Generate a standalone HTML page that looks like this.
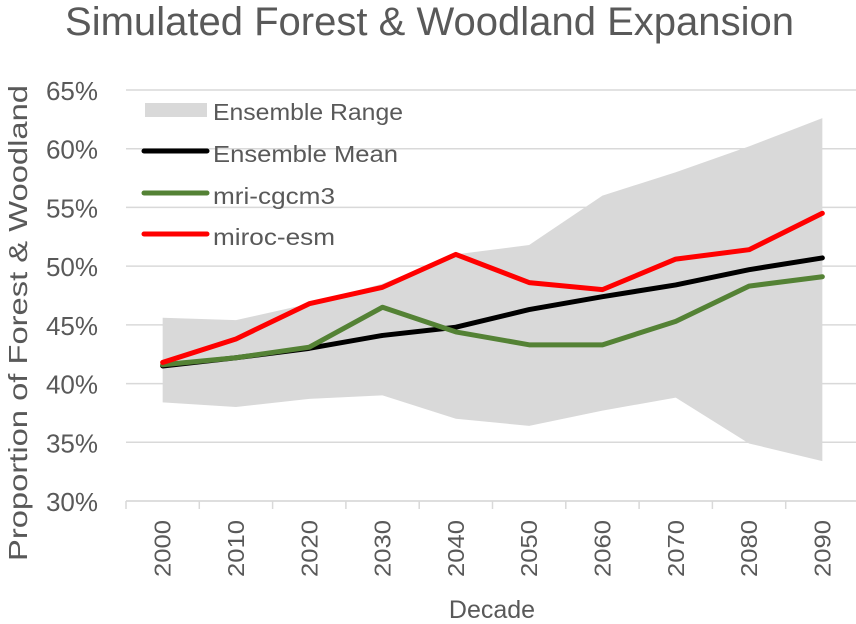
<!DOCTYPE html>
<html><head><meta charset="utf-8"><style>
body{margin:0;background:#fff}
svg{display:block;font-family:"Liberation Sans",Arial,sans-serif}
</style></head><body>
<svg id="c" width="856" height="624"></svg>
<script>
const decades=["2000","2010","2020","2030","2040","2050","2060","2070","2080","2090"];
const rangeHigh=[45.6,45.4,46.8,48.5,51.0,51.8,56.0,58.0,60.2,62.6];
const rangeLow=[38.4,38.0,38.7,39.0,37.0,36.4,37.7,38.8,34.9,33.4];
const ensembleMean=[41.5,42.2,43.0,44.1,44.8,46.3,47.4,48.4,49.7,50.7];
const mriCgcm3=[41.6,42.2,43.1,46.5,44.4,43.3,43.3,45.3,48.3,49.1];
const mirocEsm=[41.8,43.8,46.8,48.2,51.0,48.6,48.0,50.6,51.4,54.5];
const yTicks=[30,35,40,45,50,55,60,65];
const NS="http://www.w3.org/2000/svg";
const svg=document.getElementById('c');
const X0=126,CW=73.3,Y30=501,Y65=90;
const xs=i=>X0+CW*(i+0.5);
const ys=v=>Y30-(v-30)*(Y30-Y65)/35;
function mk(t,a,p){const e=document.createElementNS(NS,t);for(const k in a)e.setAttribute(k,a[k]);(p||svg).appendChild(e);return e;}
let e;
e=mk('text',{x:65,y:35,'font-size':40,fill:'#595959',textLength:729,lengthAdjust:'spacingAndGlyphs'});e.textContent='Simulated Forest & Woodland Expansion';


yTicks.forEach(v=>{
 e=mk('line',{x1:X0,x2:856,y1:ys(v),y2:ys(v),stroke:'#d9d9d9','stroke-width':1.5});
 
 
 e=mk('text',{x:98,y:ys(v)+10,'text-anchor':'end','font-size':26,fill:'#595959'});e.textContent=v+'%';
 
 
});
let pts=rangeHigh.map((v,i)=>xs(i)+','+ys(v));
for(let i=rangeLow.length-1;i>=0;i--)pts.push(xs(i)+','+ys(rangeLow[i]));
e=mk('polygon',{points:pts.join(' '),fill:'#d9d9d9'});


e=mk('line',{x1:X0,x2:856,y1:Y30,y2:Y30,stroke:'#d9d9d9','stroke-width':1.5});


decades.forEach((d,i)=>{
 e=mk('line',{x1:X0+CW*i,x2:X0+CW*i,y1:Y30,y2:Y30+8,stroke:'#d9d9d9','stroke-width':1.5});
 
 
 e=mk('text',{x:0,y:0,'text-anchor':'end','font-size':23,fill:'#595959',textLength:57,lengthAdjust:'spacingAndGlyphs',transform:`translate(${xs(i)+8},${Y30+19}) rotate(-90)`});e.textContent=d;
 
 
});
function line(vals,col,name){
 e=mk('polyline',{points:vals.map((v,i)=>xs(i)+','+ys(v)).join(' '),fill:'none',stroke:col,'stroke-width':5,'stroke-linejoin':'round','stroke-linecap':'round'});
 
 
}
line(ensembleMean,'#000000','ensemble-mean-line');
line(mriCgcm3,'#548235','mri-cgcm3-line');
line(mirocEsm,'#ff0000','miroc-esm-line');
e=mk('text',{x:0,y:0,'text-anchor':'middle','font-size':26,fill:'#595959',textLength:476,lengthAdjust:'spacingAndGlyphs',transform:'translate(27,323) rotate(-90)'});e.textContent='Proportion of Forest & Woodland';


e=mk('text',{x:492,y:618,'text-anchor':'middle','font-size':25,fill:'#595959'});e.textContent='Decade';


const lg=mk('g',{});


e=mk('rect',{x:145,y:103,width:62,height:14,fill:'#d9d9d9'},lg);


[['#000000',151,'legend-swatch-mean'],['#548235',193,'legend-swatch-mri'],['#ff0000',234,'legend-swatch-miroc']].forEach(r=>{
 e=mk('line',{x1:144,x2:207,y1:r[1],y2:r[1],stroke:r[0],'stroke-width':5,'stroke-linecap':'round'},lg);
 
 
});
[['Ensemble Range',120,190],['Ensemble Mean',162,185],['mri-cgcm3',204,122],['miroc-esm',245,122]].forEach(r=>{
 e=mk('text',{x:213,y:r[1],'font-size':23,fill:'#595959',textLength:r[2],lengthAdjust:'spacingAndGlyphs'},lg);e.textContent=r[0];
 
 
});
</script>
</body></html>
